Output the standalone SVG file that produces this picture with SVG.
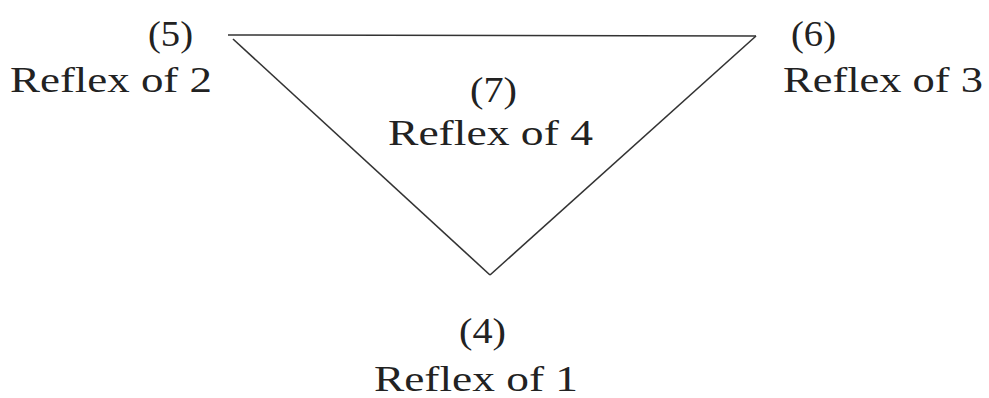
<svg xmlns="http://www.w3.org/2000/svg" width="989" height="398" viewBox="0 0 989 398">
<style>
text{font-family:"Liberation Serif","Times New Roman",serif;font-size:35px;fill:#222}
.edge{fill:none;stroke:#333;stroke-width:1.6}
</style>
<rect width="989" height="398" fill="#fff"/>
<g id="connectors">
<line class="edge" x1="228" y1="35" x2="756" y2="36"/>
<line class="edge" x1="233" y1="39" x2="490" y2="275"/>
<line class="edge" x1="756" y1="36" x2="490" y2="275"/>
</g>
<g id="node5">
<text x="148" y="46" textLength="45" lengthAdjust="spacingAndGlyphs">(5)</text>
<text x="10" y="92" textLength="202" lengthAdjust="spacingAndGlyphs">Reflex of 2</text>
</g>
<g id="node6">
<text x="791" y="46" textLength="45" lengthAdjust="spacingAndGlyphs">(6)</text>
<text x="783" y="92" textLength="200" lengthAdjust="spacingAndGlyphs">Reflex of 3</text>
</g>
<g id="node7">
<text x="470" y="102" textLength="47" lengthAdjust="spacingAndGlyphs">(7)</text>
<text x="388" y="145" textLength="205" lengthAdjust="spacingAndGlyphs">Reflex of 4</text>
</g>
<g id="node4">
<text x="459" y="343" textLength="47" lengthAdjust="spacingAndGlyphs">(4)</text>
<text x="374" y="391" textLength="204" lengthAdjust="spacingAndGlyphs">Reflex of 1</text>
</g>
</svg>
